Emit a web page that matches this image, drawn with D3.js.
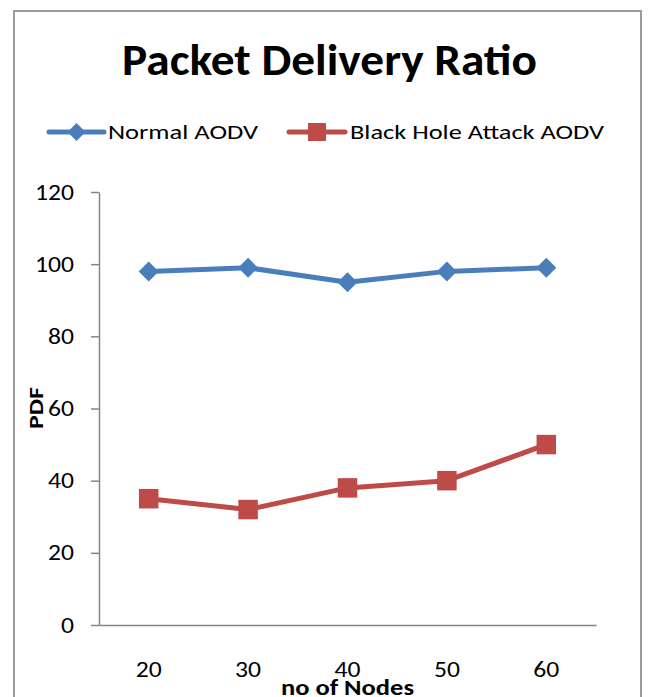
<!DOCTYPE html>
<html>
<head>
<meta charset="utf-8">
<script src="https://cdn.jsdelivr.net/npm/d3@7"></script>
<style>
  html, body { margin: 0; padding: 0; background: #fff; }
  svg { display: block; }
  text { font-family: Carlito, Lato, "Open Sans", sans-serif; fill: #000; }
</style>
</head>
<body>
<svg id="chart" width="649" height="697"></svg>
<script>
// Packet delivery ratio per number of nodes
const nodeCounts = ["20", "30", "40", "50", "60"];
const normalAodv = [98, 99, 95, 98, 99];
const blackHoleAodv = [35, 32, 38, 40, 50];
const yTicks = [0, 20, 40, 60, 80, 100, 120];
const seriesNames = ["Normal AODV", "Black Hole Attack AODV"];

const blue = "#4A7EBB";
const red = "#BE4B48";
const axisGrey = "#868686";
const fontStack = "Carlito, Lato, 'Open Sans', sans-serif";
const digitWidth = 13;

const svg = d3.select("#chart");

// outer chart frame
svg.append("rect")
  .attr("x", 14).attr("y", 11)
  .attr("width", 627).attr("height", 720)
  .attr("fill", "none")
  .attr("stroke", "#9a9a9a")
  .attr("stroke-width", 2);

// title
svg.append("text")
  .attr("x", 329.5).attr("y", 75)
  .attr("text-anchor", "middle")
  .attr("font-size", 44)
  .attr("font-weight", "bold")
  .attr("textLength", 415)
  .attr("lengthAdjust", "spacingAndGlyphs")
  .text("Packet Delivery Ratio");

const x = d3.scaleBand().domain(nodeCounts).range([99, 596]).padding(0);
const y = d3.scaleLinear().domain([0, 120]).range([625, 192]);
const cx = d => x(d) + x.bandwidth() / 2;

function styleTickText(sel) {
  sel.attr("font-size", 22)
    .attr("font-family", fontStack)
    .attr("fill", "#000")
    .attr("textLength", function () { return this.textContent.length * digitWidth; })
    .attr("lengthAdjust", "spacingAndGlyphs");
}

// y axis
const yAxis = svg.append("g")
  .attr("transform", "translate(99,0)")
  .call(d3.axisLeft(y).tickValues(yTicks).tickSize(8).tickSizeOuter(0).tickPadding(17));
yAxis.select(".domain").attr("stroke", axisGrey).attr("stroke-width", 1.5);
yAxis.selectAll(".tick line").attr("stroke", axisGrey).attr("stroke-width", 1.5);
yAxis.selectAll(".tick text").call(styleTickText);

// x axis
const xAxis = svg.append("g")
  .attr("transform", "translate(0,625)")
  .call(d3.axisBottom(x).tickSize(0).tickSizeOuter(0).tickPadding(36));
xAxis.select(".domain").attr("stroke", axisGrey).attr("stroke-width", 1.5);
xAxis.selectAll(".tick text").call(styleTickText);

// axis titles
svg.append("text")
  .attr("transform", "translate(43,408) rotate(-90)")
  .attr("text-anchor", "middle")
  .attr("font-size", 21)
  .attr("font-weight", "bold")
  .attr("textLength", 42)
  .attr("lengthAdjust", "spacingAndGlyphs")
  .text("PDF");

svg.append("text")
  .attr("x", 347.5).attr("y", 695)
  .attr("text-anchor", "middle")
  .attr("font-size", 23)
  .attr("font-weight", "bold")
  .attr("textLength", 133)
  .attr("lengthAdjust", "spacingAndGlyphs")
  .text("no of Nodes");

const line = d3.line()
  .x((d, i) => cx(nodeCounts[i]))
  .y(d => y(d));

function drawSeries(values, color, shape, size) {
  svg.append("path")
    .datum(values)
    .attr("d", line)
    .attr("fill", "none")
    .attr("stroke", color)
    .attr("stroke-width", 5)
    .attr("stroke-linejoin", "round");
  svg.selectAll(null)
    .data(values)
    .enter().append("path")
    .attr("transform", (d, i) => `translate(${cx(nodeCounts[i])},${y(d)})` + (shape === "diamond" ? " rotate(45)" : ""))
    .attr("d", d3.symbol(d3.symbolSquare, size)())
    .attr("fill", color);
}

drawSeries(normalAodv, blue, "diamond", 200);
drawSeries(blackHoleAodv, red, "square", 380);

// legend
const legend = [
  { name: seriesNames[0], color: blue, shape: "diamond", x0: 49, x1: 104, tx: 108, tw: 150, size: 162 },
  { name: seriesNames[1], color: red, shape: "square", x0: 289, x1: 345, tx: 350, tw: 254, size: 324 }
];
const ly = 132;
legend.forEach(l => {
  svg.append("line")
    .attr("x1", l.x0).attr("x2", l.x1)
    .attr("y1", ly).attr("y2", ly)
    .attr("stroke", l.color).attr("stroke-width", 5)
    .attr("stroke-linecap", "round");
  svg.append("path")
    .attr("transform", `translate(${(l.x0 + l.x1) / 2},${ly})` + (l.shape === "diamond" ? " rotate(45)" : ""))
    .attr("d", d3.symbol(d3.symbolSquare, l.size)())
    .attr("fill", l.color);
  svg.append("text")
    .attr("x", l.tx).attr("y", ly + 7)
    .attr("font-size", 21)
    .attr("textLength", l.tw)
    .attr("lengthAdjust", "spacingAndGlyphs")
    .text(l.name);
});
</script>
</body>
</html>
